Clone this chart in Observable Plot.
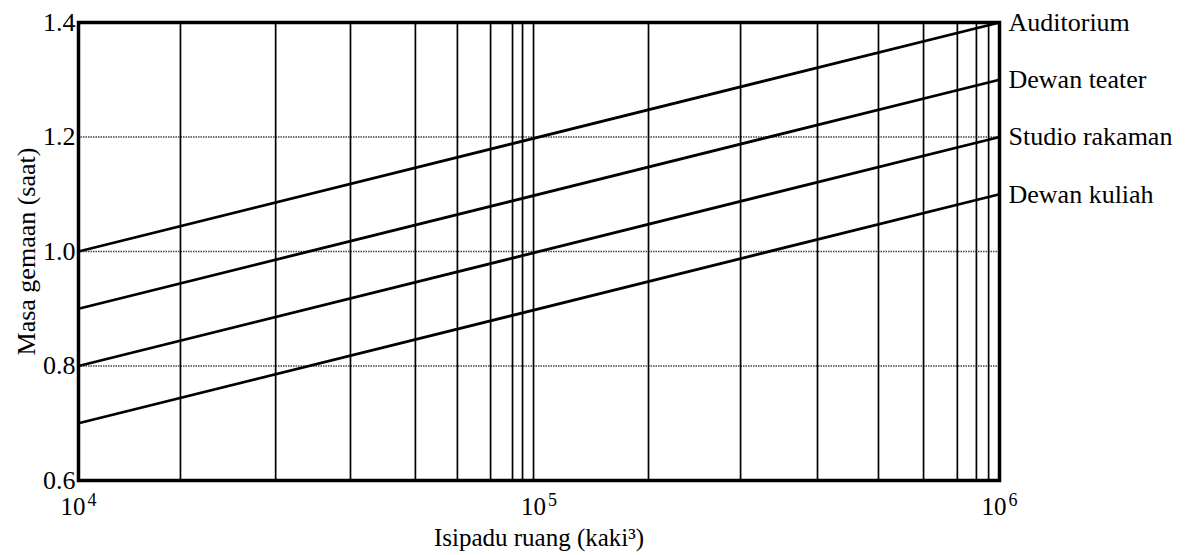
<!DOCTYPE html>
<html><head><meta charset="utf-8">
<script src="https://cdn.jsdelivr.net/npm/d3@7"></script>
<script src="https://cdn.jsdelivr.net/npm/@observablehq/plot@0.6"></script>
<style>body{margin:0;background:#fff}</style>
</head><body><div id="chart"></div>
<script>
const rooms = ["Auditorium", "Dewan teater", "Studio rakaman", "Dewan kuliah"];
const rtAtMinVolume = [1.0, 0.9, 0.8, 0.7];
const rtAtMaxVolume = [1.4, 1.3, 1.2, 1.1];
const volumeRange = [1e4, 1e6];
const xTicks = [1e4, 1e5, 1e6];
const xTickExponents = ["4", "5", "6"];
const yTicks = [0.6, 0.8, 1.0, 1.2, 1.4];
const yGrid = [0.8, 1.0, 1.2];
const xGrid = [16650, 26800, 38960, 53900, 66500, 78500, 87600, 92100, 97300,
               172900, 274000, 402500, 546000, 684000, 810000, 891000, 947000];

const lineData = rooms.flatMap((r, i) => [
  {room: r, v: volumeRange[0], t: rtAtMinVolume[i]},
  {room: r, v: volumeRange[1], t: rtAtMaxVolume[i]}
]);
const labelData = rooms.map((r, i) => ({room: r, v: volumeRange[1], t: rtAtMaxVolume[i]}));

const chart = Plot.plot({
  width: 1186, height: 555,
  marginLeft: 78, marginRight: 187, marginTop: 22, marginBottom: 75,
  style: {fontFamily: "'Liberation Serif', 'Times New Roman', serif", fontSize: "26px", background: "#fff", color: "#000"},
  x: {type: "log", domain: volumeRange},
  y: {domain: [0.6, 1.4]},
  marks: [
    Plot.ruleY(yGrid, {stroke: "#444", strokeWidth: 1.6, strokeDasharray: "1.5,1"}),
    Plot.ruleX(xGrid, {stroke: "#000", strokeWidth: 1.7}),
    Plot.line(lineData, {x: "v", y: "t", z: "room", stroke: "#000", strokeWidth: 2.8}),
    Plot.frame({stroke: "#000", strokeWidth: 3.5}),
    Plot.axisY({ticks: yTicks, tickFormat: d => d.toFixed(1), tickSize: 0, tickPadding: 3, fontSize: 26,
      label: "Masa gemaan (saat)", labelAnchor: "center", labelArrow: "none", labelOffset: 62}),
    Plot.axisX({ticks: xTicks, tickFormat: d => "10^" + xTickExponents[xTicks.indexOf(d)], tickSize: 0, tickPadding: 17, fontSize: 25,
      label: "Isipadu ruang (kaki³)", labelAnchor: "center", labelArrow: "none", labelOffset: 65}),
    Plot.text(labelData, {x: "v", y: "t", text: "room", textAnchor: "start", dx: 9, fontSize: 26})
  ]
});
// render exponents as raised superscripts
d3.select(chart).selectAll('g[aria-label="x-axis tick label"] text').each(function() {
  const s = d3.select(this);
  const txt = s.text();
  const parts = txt.split("^");
  if (parts.length === 2) {
    s.text(parts[0]);
    s.append("tspan").attr("font-size", 18).attr("dy", "-0.5em").attr("dx", "2").text(parts[1]);
  }
});
document.getElementById("chart").appendChild(chart);
</script>
</body></html>
